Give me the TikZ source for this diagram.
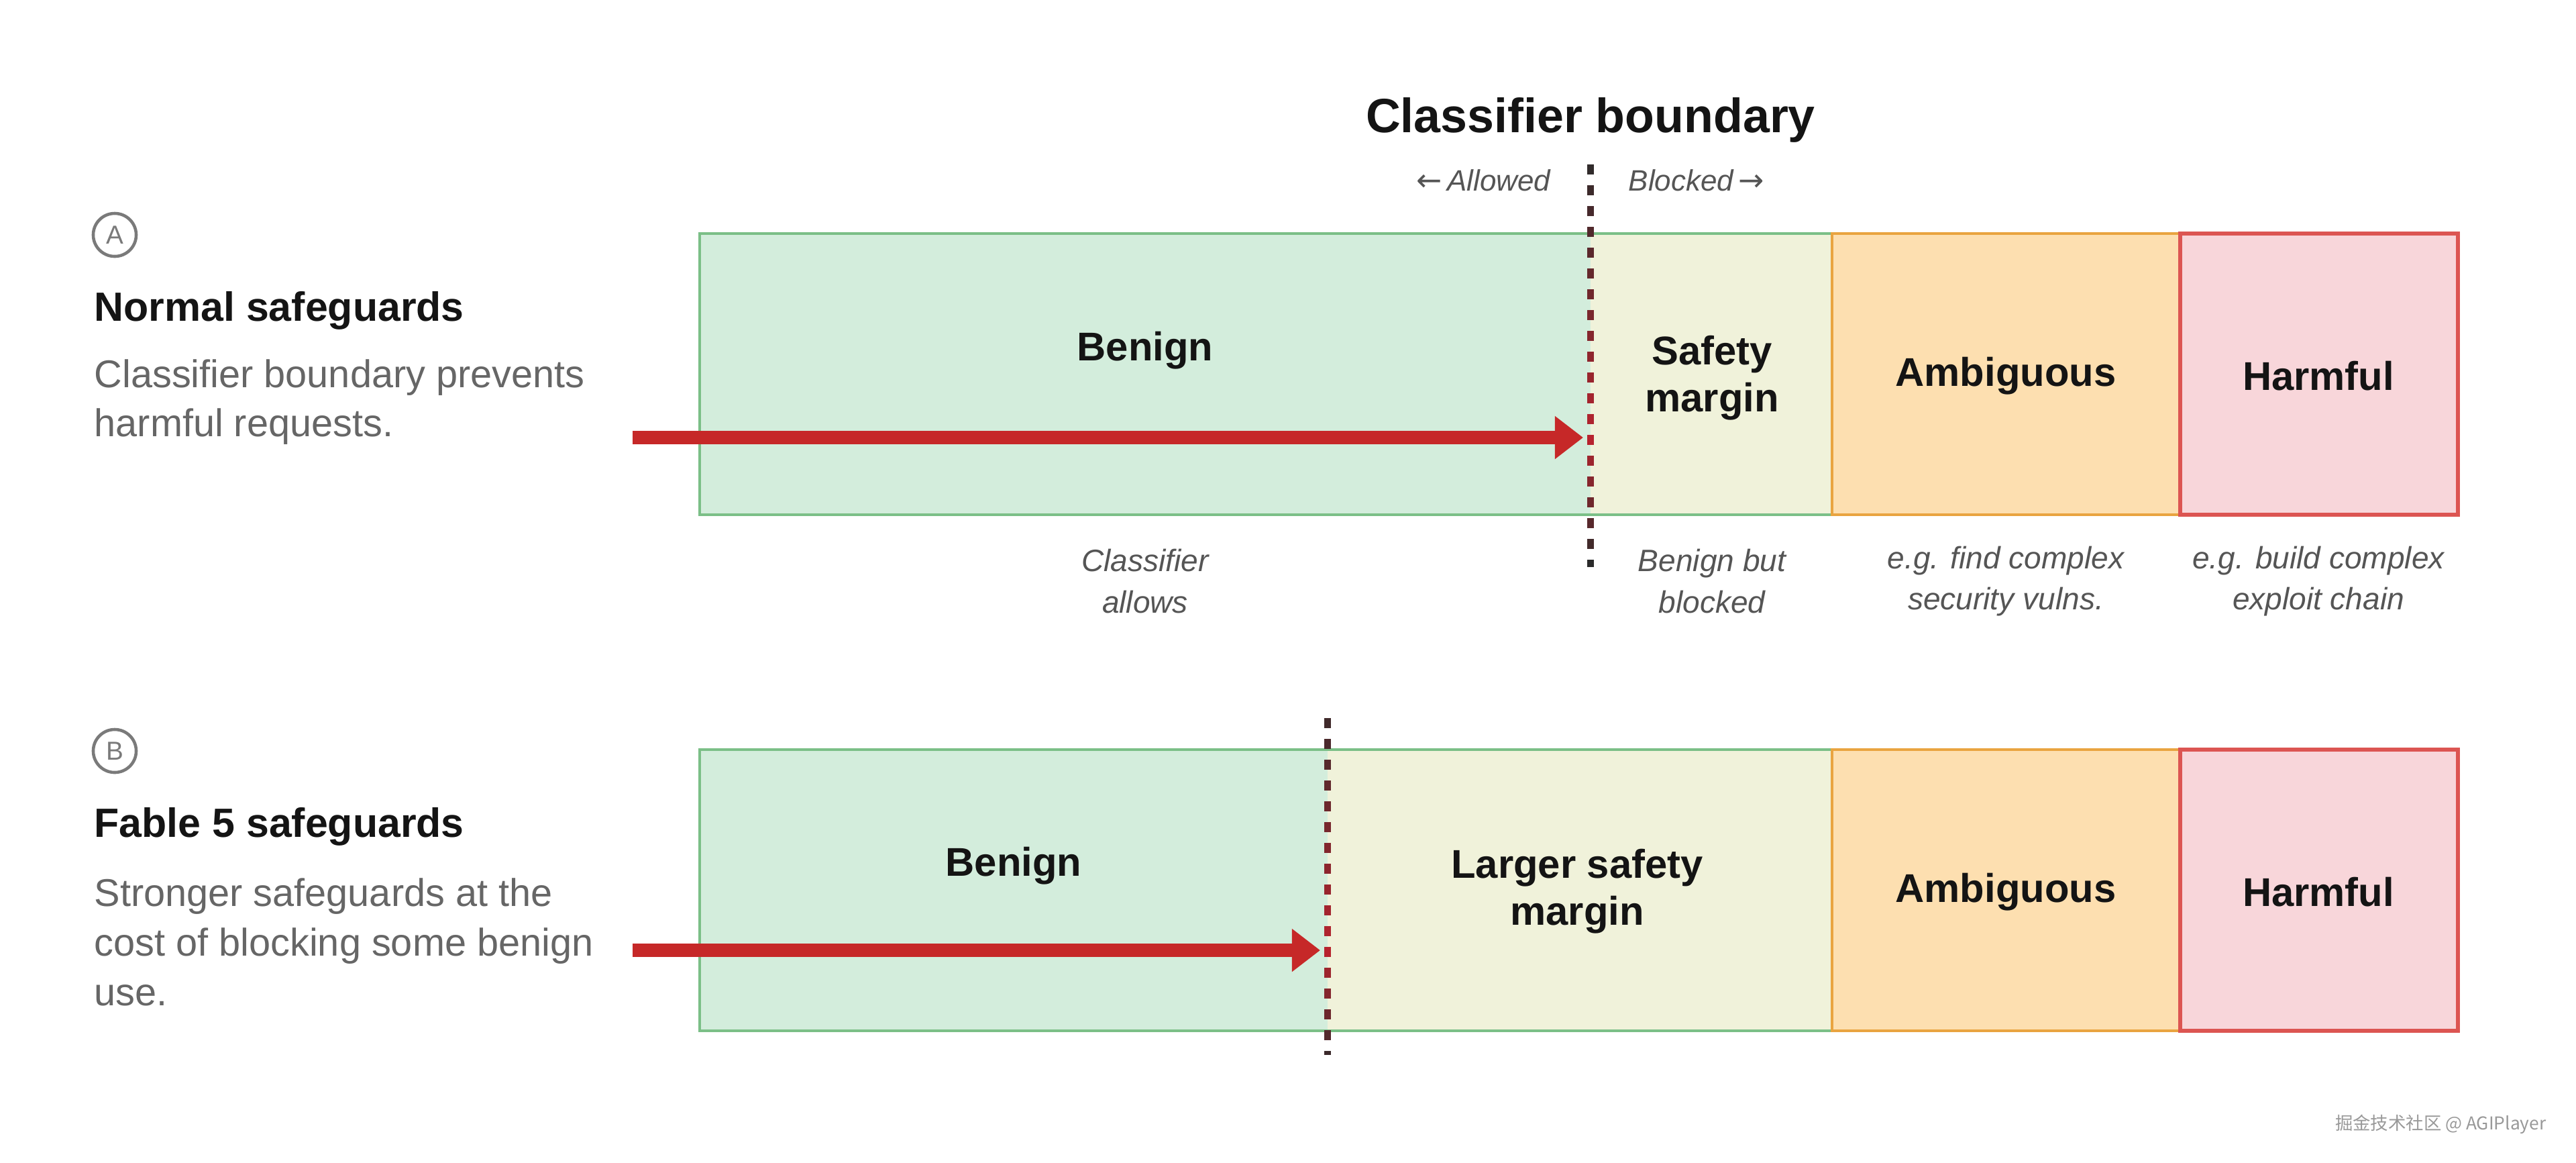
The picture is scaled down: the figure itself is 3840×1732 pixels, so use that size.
\documentclass[tikz,border=0pt]{standalone}
\usepackage{fontspec}
\setmainfont{Liberation Sans}
\newfontfamily\cjkfont{Noto Sans CJK SC}
\newfontfamily\arrowfont{DejaVu Sans}
\usetikzlibrary{arrows.meta,positioning}

\definecolor{inkdark}{HTML}{141414}
\definecolor{inkgray}{HTML}{666666}
\definecolor{capgray}{HTML}{555555}
\definecolor{ringgray}{HTML}{7A7A7A}
\definecolor{benignfill}{HTML}{D3EDDC}
\definecolor{benigndraw}{HTML}{7BBF87}
\definecolor{marginfill}{HTML}{F0F2DA}
\definecolor{ambigfill}{HTML}{FDDFB0}
\definecolor{ambigdraw}{HTML}{E9A440}
\definecolor{harmfill}{HTML}{F8D6DA}
\definecolor{harmdraw}{HTML}{DC5552}
\definecolor{pathred}{HTML}{C62828}
\definecolor{dashred}{HTML}{B8232E}
\definecolor{dashdark}{HTML}{2B2B2B}

\begin{document}
\begin{tikzpicture}[x=0.01cm,y=-0.01cm]
  \tikzstyle{ring}=[circle,draw=ringgray,line width=1.3pt,minimum size=0.64cm,inner sep=0pt,text=ringgray,font=\fontsize{11}{13}\selectfont]
  \tikzstyle{heading}=[anchor=west,inner sep=0pt,text=inkdark,font=\bfseries\fontsize{17.3}{21}\selectfont]
  \tikzstyle{blurb}=[anchor=west,align=left,inner sep=0pt,text=inkgray,font=\fontsize{16.4}{21}\selectfont]
  \tikzstyle{zonelbl}=[align=center,inner sep=0pt,text=inkdark,font=\bfseries\fontsize{17}{20}\selectfont]
  \tikzstyle{note}=[align=center,inner sep=0pt,text=capgray,font=\itshape\fontsize{13.1}{17.4}\selectfont]
  \tikzstyle{sidelbl}=[inner sep=0pt,text=capgray,font=\itshape\fontsize{12.5}{15}\selectfont]
  \tikzstyle{redpath}=[draw=pathred,line width=5.7pt,-{Triangle[length=12pt,width=17.5pt]}]
  \tikzstyle{dashbit}=[line width=2.85pt]

  \useasboundingbox (0,0) rectangle (3840,1732);
  \fill[white] (0,0) rectangle (3840,1732);

  \node[inner sep=0pt,text=inkdark,font=\bfseries\fontsize{20.4}{24}\selectfont] (cbtitle) at (2371,179) {Classifier boundary};
  \node[sidelbl,anchor=east] (allowed) at (2312,269) {{\arrowfont\upshape\fontsize{13}{15}\selectfont ←}\,Allowed};
  \node[sidelbl,anchor=west] (blocked) at (2427,269) {Blocked\,{\arrowfont\upshape\fontsize{13}{15}\selectfont →}};

  \node[ring] (tagA) at (171,350) {A};
  \node[heading] (headA) at (140,463) {Normal safeguards};
  \node[blurb] (blurbA) at (140,599) {Classifier boundary prevents\\harmful requests.};

  \fill[benignfill] (1043,348) rectangle (2371,767);
  \fill[marginfill] (2371,348) rectangle (2731,767);
  \fill[ambigfill] (2731,348) rectangle (3250,767);
  \fill[harmfill] (3250,348) rectangle (3664,767);
  \draw[benigndraw,line width=0.9pt] (1043,348) rectangle (2731,767);
  \draw[ambigdraw,line width=0.9pt] (2731,348) rectangle (3250,767);
  \draw[harmdraw,line width=1.5pt] (3250,348) rectangle (3664,767);

  \node[zonelbl] (benignA) at (1707,522) {Benign};
  \node[zonelbl] (marginA) at (2552,563) {Safety\\margin};
  \node[zonelbl] (ambigA) at (2990,560) {Ambiguous};
  \node[zonelbl] (harmA) at (3456,560) {Harmful};

  \node[note] (noteA1) at (1707,866) {Classifier\\allows};
  \node[note] (noteA2) at (2552,866) {Benign but\\blocked};
  \node[note] (noteA3) at (2990,866) {e.g. find complex\\security vulns.};
  \node[note] (noteA4) at (3456,866) {e.g. build complex\\exploit chain};

  \coordinate (startA) at (943,652);
  \coordinate (tipA) at (2360,652);
  \draw[redpath] (startA) -- (tipA);

  \foreach \yy in {245,276,...,834} {
    \pgfmathtruncatemacro{\pct}{max(0,100-abs(\yy+8-652)/(\yy<652 ? 4.2 : 1.9))}
    \draw[dashbit,color=dashred!\pct!dashdark] (2371,\yy) -- (2371,{min(\yy+15,845)});
  }

  \node[ring] (tagB) at (171,1119) {B};
  \node[heading] (headB) at (140,1232) {Fable 5 safeguards};
  \node[blurb] (blurbB) at (140,1404) {Stronger safeguards at the\\cost of blocking some benign\\use.};

  \fill[benignfill] (1043,1117) rectangle (1979,1536);
  \fill[marginfill] (1979,1117) rectangle (2731,1536);
  \fill[ambigfill] (2731,1117) rectangle (3250,1536);
  \fill[harmfill] (3250,1117) rectangle (3664,1536);
  \draw[benigndraw,line width=0.9pt] (1043,1117) rectangle (2731,1536);
  \draw[ambigdraw,line width=0.9pt] (2731,1117) rectangle (3250,1536);
  \draw[harmdraw,line width=1.5pt] (3250,1117) rectangle (3664,1536);

  \node[zonelbl] (benignB) at (1511,1290) {Benign};
  \node[zonelbl] (marginB) at (2351,1328) {Larger safety\\margin};
  \node[zonelbl] (ambigB) at (2990,1329) {Ambiguous};
  \node[zonelbl] (harmB) at (3456,1329) {Harmful};

  \coordinate (startB) at (943,1416);
  \coordinate (tipB) at (1968,1416);
  \draw[redpath] (startB) -- (tipB);

  \foreach \yy in {1070,1101,...,1566} {
    \pgfmathtruncatemacro{\pct}{max(0,100-abs(\yy+8-1416)/(\yy<1416 ? 4 : 1.8))}
    \draw[dashbit,color=dashred!\pct!dashdark] (1979,\yy) -- (1979,{min(\yy+15,1572)});
  }

  \node[anchor=east,inner sep=0pt,text=black!40,font=\cjkfont\fontsize{7.5}{9}\selectfont] (mark) at (3796,1675) {掘金技术社区 @ AGIPlayer};
\end{tikzpicture}
\end{document}
